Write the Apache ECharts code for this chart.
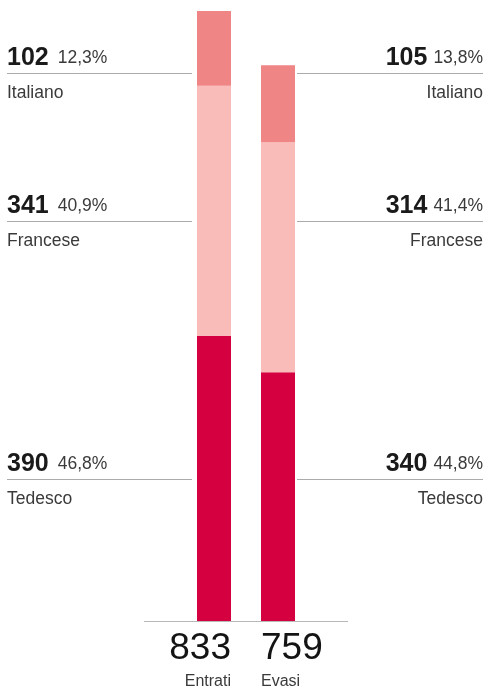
<!DOCTYPE html>
<html><head><meta charset="utf-8">
<script src="https://cdn.jsdelivr.net/npm/echarts@6/dist/echarts.min.js"></script>
<style>html,body{margin:0;padding:0;background:#fff}#c{width:486px;height:695px}</style>
</head><body><div id="c"></div>
<script>
var categories = ['Entrati', 'Evasi'];
var languages = ['Tedesco', 'Francese', 'Italiano'];
var tedesco = [390, 340];
var francese = [341, 314];
var italiano = [102, 105];
var pctEntrati = ['46,8%', '40,9%', '12,3%'];
var pctEvasi = ['44,8%', '41,4%', '13,8%'];
var colors = ['#d5003f', '#fabcb8', '#ef8585'];

var totals = categories.map(function (c, i) { return tedesco[i] + francese[i] + italiano[i]; });
var seriesVals = [tedesco, francese, italiano];

var FONT = '"Liberation Sans", Arial, sans-serif';
var lineY = [479.5, 221.5, 73.5]; // Tedesco, Francese, Italiano label rows

var chart = echarts.init(document.getElementById('c'), null, {renderer: 'canvas'});
var graphics = [];
// baseline axis
graphics.push({type: 'line', shape: {x1: 144, y1: 621.5, x2: 348, y2: 621.5}, style: {stroke: '#b8b8b8', lineWidth: 1}, z: 10});

languages.forEach(function (lang, k) {
  var y = lineY[k];
  // left (Entrati)
  graphics.push({type: 'line', shape: {x1: 7, y1: y, x2: 192, y2: y}, style: {stroke: '#ababab', lineWidth: 1}});
  graphics.push({type: 'text', x: 7, y: y - 3, style: {
    text: '{n|' + seriesVals[k][0] + '}{p|' + pctEntrati[k] + '}',
    align: 'left', verticalAlign: 'bottom', font: FONT,
    rich: {n: {fontSize: 25, fontWeight: 'bold', fill: '#1a1a1a', fontFamily: FONT},
           p: {fontSize: 17.5, fill: '#3a3a3a', fontFamily: FONT, padding: [0, 0, 0, 9]}}
  }});
  graphics.push({type: 'text', x: 7, y: y + 10.5, style: {text: lang, fontSize: 17.5, fontFamily: FONT, fill: '#3a3a3a', align: 'left', verticalAlign: 'top'}});
  // right (Evasi)
  graphics.push({type: 'line', shape: {x1: 297, y1: y, x2: 483, y2: y}, style: {stroke: '#ababab', lineWidth: 1}});
  graphics.push({type: 'text', x: 483, y: y - 3, style: {
    text: '{n|' + seriesVals[k][1] + '}{p|' + pctEvasi[k] + '}',
    align: 'right', verticalAlign: 'bottom', font: FONT,
    rich: {n: {fontSize: 25, fontWeight: 'bold', fill: '#1a1a1a', fontFamily: FONT},
           p: {fontSize: 17.5, fill: '#3a3a3a', fontFamily: FONT, padding: [0, 0, 0, 6]}}
  }});
  graphics.push({type: 'text', x: 483, y: y + 10.5, style: {text: lang, fontSize: 17.5, fontFamily: FONT, fill: '#3a3a3a', align: 'right', verticalAlign: 'top'}});
});

// totals
graphics.push({type: 'text', x: 231, y: 630, style: {text: String(totals[0]), fontSize: 37, fontFamily: FONT, fill: '#141414', align: 'right', verticalAlign: 'top'}});
graphics.push({type: 'text', x: 231, y: 674, style: {text: categories[0], fontSize: 16, fontFamily: FONT, fill: '#3a3a3a', align: 'right', verticalAlign: 'top'}});
graphics.push({type: 'text', x: 261, y: 630, style: {text: String(totals[1]), fontSize: 37, fontFamily: FONT, fill: '#141414', align: 'left', verticalAlign: 'top'}});
graphics.push({type: 'text', x: 261, y: 674, style: {text: categories[1], fontSize: 16, fontFamily: FONT, fill: '#3a3a3a', align: 'left', verticalAlign: 'top'}});

chart.setOption({
  animation: false,
  grid: {left: 182, width: 128, top: 11, bottom: 73.5},
  xAxis: {type: 'category', data: categories, show: false},
  yAxis: {type: 'value', min: 0, max: totals[0], show: false},
  series: languages.map(function (lang, k) {
    return {name: lang, type: 'bar', stack: 'tot', barWidth: 34, data: seriesVals[k],
      itemStyle: {color: colors[k]}, emphasis: {disabled: true}};
  }),
  graphic: graphics
});
</script></body></html>
